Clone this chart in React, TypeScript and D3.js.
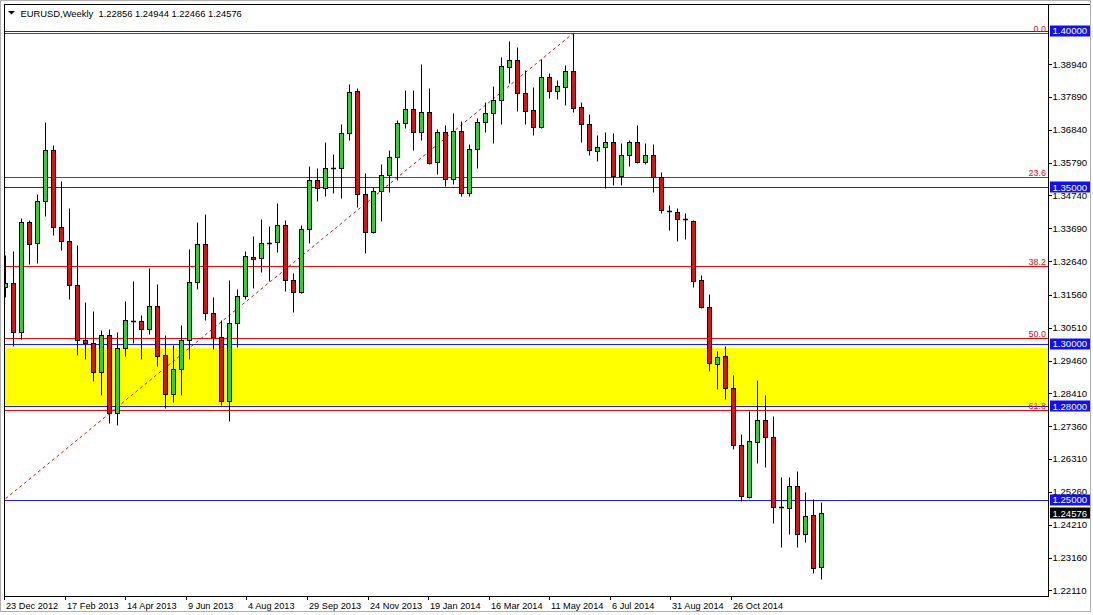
import React from 'react';
import * as d3 from 'd3';

// Weekly EURUSD candles (index 0 = first visible week)
const opens = [1.31813,1.31941,1.30374,1.33892,1.33220,1.34563,1.36194,1.33732,1.33284,1.31877,1.30118,1.30022,1.29095,1.30278,1.27784,1.29862,1.30726,1.30726,1.30470,1.31205,1.29638,1.28391,1.29191,1.30118,1.31973,1.33188,1.30982,1.30214,1.28167,1.30662,1.31525,1.32773,1.32741,1.33220,1.33252,1.33796,1.32037,1.31653,1.33668,1.35235,1.34979,1.35619,1.35619,1.36738,1.38081,1.34787,1.33572,1.34883,1.35395,1.35971,1.37058,1.37506,1.36770,1.37410,1.35811,1.36770,1.35267,1.36802,1.34819,1.36226,1.37090,1.37378,1.37793,1.38849,1.39073,1.38017,1.37474,1.36930,1.38529,1.38081,1.38209,1.38721,1.37569,1.37026,1.36162,1.36290,1.36450,1.35363,1.36034,1.36450,1.35811,1.36034,1.35331,1.34244,1.34212,1.33988,1.33924,1.32037,1.31174,1.29351,1.29606,1.28583,1.26760,1.25097,1.26856,1.27560,1.27016,1.24777,1.24745,1.25449,1.23913,1.24521,1.22856];
const highs = [1.32836,1.32964,1.34020,1.33956,1.34787,1.37090,1.36354,1.35203,1.34340,1.33156,1.31333,1.31046,1.30438,1.30470,1.30374,1.31365,1.32005,1.30918,1.32421,1.31909,1.30278,1.29958,1.30598,1.33028,1.33892,1.34148,1.31493,1.30758,1.32037,1.31749,1.32964,1.33444,1.33988,1.33764,1.34499,1.33956,1.32261,1.33796,1.35683,1.35619,1.36450,1.36066,1.37026,1.38305,1.38177,1.35459,1.35011,1.35747,1.36194,1.37154,1.38113,1.38113,1.38945,1.38177,1.36866,1.36994,1.37378,1.37122,1.36386,1.37218,1.37729,1.38241,1.39169,1.39680,1.39488,1.38753,1.38209,1.39105,1.38657,1.38433,1.38913,1.39936,1.37729,1.37346,1.36674,1.36770,1.36738,1.36418,1.36514,1.36994,1.36418,1.36386,1.35491,1.34435,1.34340,1.34180,1.33956,1.32197,1.31589,1.29766,1.29926,1.28999,1.27112,1.27848,1.28839,1.28359,1.27688,1.25737,1.25737,1.25929,1.25257,1.25033,1.24944];
const lows = [1.31493,1.29926,1.30150,1.32549,1.32581,1.34084,1.33476,1.32996,1.31429,1.29638,1.29510,1.28807,1.28359,1.27464,1.27400,1.29606,1.30022,1.29510,1.30310,1.29287,1.27943,1.28135,1.28359,1.29510,1.31749,1.30758,1.29830,1.28039,1.27528,1.29894,1.31429,1.31781,1.32293,1.32005,1.32932,1.31685,1.31014,1.31621,1.33220,1.34563,1.34723,1.34819,1.34659,1.36514,1.34372,1.32900,1.33540,1.33924,1.34851,1.35235,1.36898,1.36194,1.36514,1.35747,1.35427,1.35043,1.35107,1.34723,1.34723,1.35619,1.36770,1.36418,1.37026,1.38337,1.37442,1.37026,1.36674,1.36898,1.37857,1.37825,1.37633,1.37410,1.36450,1.36034,1.35843,1.34979,1.35075,1.35075,1.35683,1.35779,1.35747,1.34851,1.34180,1.33636,1.33284,1.33348,1.31813,1.31142,1.29127,1.28551,1.28231,1.26632,1.24969,1.25065,1.26184,1.26057,1.24265,1.23498,1.23913,1.23498,1.23658,1.22667,1.22466];
const closes = [1.31941,1.30374,1.33892,1.33188,1.34563,1.36194,1.33732,1.33284,1.31877,1.30118,1.30022,1.29095,1.30278,1.27784,1.29862,1.30758,1.30726,1.30470,1.31205,1.29606,1.28391,1.29191,1.30118,1.31973,1.33188,1.30982,1.30214,1.28167,1.30662,1.31525,1.32804,1.32709,1.33220,1.33220,1.33796,1.32037,1.31653,1.33668,1.35235,1.34979,1.35619,1.35619,1.36738,1.38049,1.34787,1.33572,1.34883,1.35395,1.35971,1.37058,1.37506,1.36770,1.37410,1.35779,1.36770,1.35267,1.36802,1.34819,1.36226,1.37090,1.37378,1.37793,1.38881,1.39073,1.38017,1.37442,1.36930,1.38529,1.38081,1.38241,1.38721,1.37538,1.37026,1.36194,1.36290,1.36450,1.35363,1.36034,1.36450,1.35811,1.36034,1.35331,1.34276,1.34244,1.33988,1.33988,1.32005,1.31174,1.29382,1.29574,1.28583,1.26760,1.25129,1.26888,1.27560,1.27016,1.24777,1.24777,1.25449,1.23913,1.24489,1.22826,1.24576];

const priceTicks = [1.3894,1.3789,1.3684,1.3579,1.3474,1.3369,1.3264,1.3156,1.3051,1.2946,1.2841,1.2736,1.2631,1.2526,1.2421,1.2316,1.2211];
const dateLabels = ['23 Dec 2012','17 Feb 2013','14 Apr 2013','9 Jun 2013','4 Aug 2013','29 Sep 2013','24 Nov 2013','19 Jan 2014','16 Mar 2014','11 May 2014','6 Jul 2014','31 Aug 2014','26 Oct 2014'];

const levelLines = [1.40, 1.35, 1.30, 1.28, 1.25];
const zoneTop = 1.2986;
const zoneBottom = 1.2804;

const fibHigh = 1.3993;
const fibLow = 1.2042;
const fibHighIndex = 71;
const fibLowIndex = -22;
const fibLevels = [0, 23.6, 38.2, 50, 61.8];
const fibLabels = ['0.0', '23.6', '38.2', '50.0', '61.8'];

const headerText = 'EURUSD,Weekly  1.22856 1.24944 1.22466 1.24576';
const lastPrice = 1.24576;

const W = 1093, H = 615;
const L = 4, T = 4, R = 1048, B = 596;
const FONT = '"Liberation Sans", Arial, sans-serif';

export default function App() {
  const x = d3.scaleLinear().domain([0, opens.length - 1]).range([5.3, 821.3]);
  const y = d3.scaleLinear().domain([1.2211, 1.4]).range([590.4, 31]);
  const xd = d3.scalePoint<string>().domain(dateLabels).range([4, 731]);
  const py = (v: number) => Math.round(y(v)) + 0.5;

  const up = '#33cf33';
  const down = '#d41515';
  const blue = '#1e1ee6';
  const red = '#e01010';

  const fibPrice = (lv: number) => fibHigh - (lv / 100) * (fibHigh - fibLow);

  return (
    <svg width={W} height={H} style={{ position: 'absolute', left: 0, top: 0, background: '#fff' }}
      fontFamily={FONT}>
      <defs>
        <clipPath id="plot">
          <rect x={L + 1} y={T + 1} width={R - L - 1} height={B - T - 1} />
        </clipPath>
      </defs>
      <rect x={0} y={0} width={W} height={H} fill="#fff" />
      <g clipPath="url(#plot)">
        <rect x={L} y={y(zoneTop)} width={R - L} height={y(zoneBottom) - y(zoneTop)} fill="#ffff00" />
        {fibLevels.map((lv, k) => (
          <line key={'f' + k} x1={L} x2={R} y1={py(fibPrice(lv))} y2={py(fibPrice(lv))} stroke={red} strokeWidth={1} />
        ))}
        {levelLines.map((v, k) => (
          <line key={'l' + k} x1={L} x2={R} y1={py(v)} y2={py(v)} stroke={blue} strokeWidth={1} />
        ))}
        <line x1={x(fibLowIndex)} y1={y(fibLow)} x2={x(fibHighIndex)} y2={y(fibHigh)}
          stroke={red} strokeWidth={1} strokeDasharray="3 3" />
        {fibLevels.map((lv, k) => (
          <text key={'ft' + k} x={1046} y={Math.round(y(fibPrice(lv))) - 1.5} textAnchor="end"
            fontSize={9} fill={red}>{fibLabels[k]}</text>
        ))}
        {opens.map((o, i) => {
          const c = closes[i];
          const cx = Math.round(x(i)) + 0.5;
          const hi = py(highs[i]);
          const lo = py(lows[i]);
          const doji = Math.abs(o - c) < 0.00005;
          const top = py(Math.max(o, c));
          const bot = py(Math.min(o, c));
          return (
            <g key={i}>
              <line x1={cx} x2={cx} y1={hi} y2={lo} stroke="#000" strokeWidth={1} />
              {doji ? (
                <line x1={cx - 2.5} x2={cx + 2.5} y1={top} y2={top} stroke="#000" strokeWidth={1.5} />
              ) : (
                <rect x={cx - 2} y={top} width={4} height={Math.max(bot - top, 1)}
                  fill={c > o ? up : down} stroke="#000" strokeWidth={1} />
              )}
            </g>
          );
        })}
      </g>

      {/* header */}
      <path d="M8,11 L15,11 L11.5,14.5 Z" fill="#000" />
      <text x={20.5} y={16.5} fontSize={9.4} fill="#000" style={{ whiteSpace: 'pre' }}>{headerText}</text>

      {/* frame */}
      <rect x={0.5} y={0.5} width={1090} height={611} fill="none" stroke="#b0b0b0" />
      <line x1={L + 0.5} x2={L + 0.5} y1={T} y2={B} stroke="#000" />
      <line x1={L} x2={1090} y1={T + 0.5} y2={T + 0.5} stroke="#000" />
      <line x1={R + 0.5} x2={R + 0.5} y1={T} y2={B + 1} stroke="#000" />
      <line x1={L} x2={R + 1} y1={B + 0.5} y2={B + 0.5} stroke="#000" />

      {/* price axis */}
      {priceTicks.map((v, k) => (
        <g key={'pt' + k}>
          <line x1={R + 1} x2={R + 4} y1={py(v)} y2={py(v)} stroke="#000" />
          <text x={1052.5} y={y(v) + 3.4} fontSize={9.6} fill="#000">{v.toFixed(5)}</text>
        </g>
      ))}
      {levelLines.map((v, k) => (
        <g key={'pb' + k}>
          <rect x={1050} y={Math.round(y(v)) - 5.5} width={40} height={11} fill="#1010f0" />
          <text x={1052.5} y={y(v) + 3.4} fontSize={9.6} fill="#fff">{v.toFixed(5)}</text>
        </g>
      ))}
      <rect x={1050} y={Math.round(y(lastPrice)) - 5.5} width={40} height={11} fill="#000" />
      <text x={1052.5} y={y(lastPrice) + 3.4} fontSize={9.6} fill="#fff">{lastPrice.toFixed(5)}</text>

      {/* time axis */}
      {dateLabels.map((d, k) => {
        const tx = Math.round(xd(d) as number) + 0.5;
        return (
          <g key={'d' + k}>
            <line x1={tx} x2={tx} y1={B} y2={B + 4} stroke="#000" />
            <text x={tx + 1.5} y={608.5} fontSize={9.2} fill="#000">{d}</text>
          </g>
        );
      })}
    </svg>
  );
}
